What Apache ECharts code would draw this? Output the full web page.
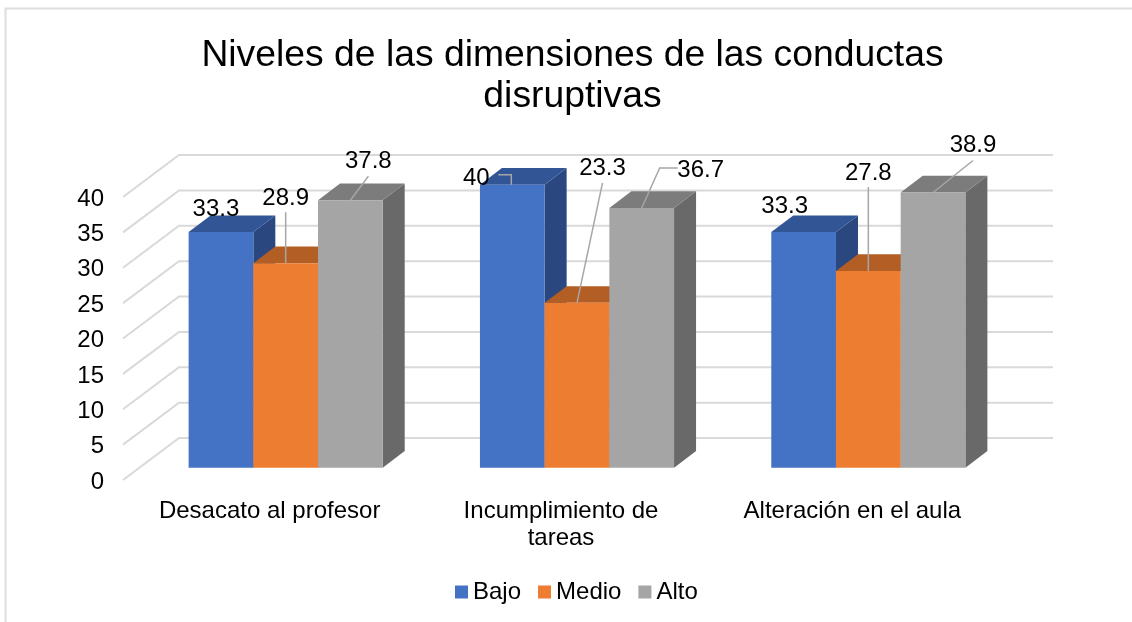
<!DOCTYPE html>
<html>
<head>
<meta charset="utf-8">
<style>
  html, body { margin: 0; padding: 0; background: #fff; }
  #chart { width: 1132px; height: 622px; }
</style>
<script src="https://cdn.jsdelivr.net/npm/echarts@6/dist/echarts.min.js"></script>
</head>
<body>
<div id="chart"></div>
<script>
var titleText = "Niveles de las dimensiones de las conductas\ndisruptivas";
var categories = ["Desacato al profesor", "Incumplimiento de\ntareas", "Alteración en el aula"];
var yTicks = [0, 5, 10, 15, 20, 25, 30, 35, 40];
var bajo = [33.3, 40, 33.3];
var medio = [28.9, 23.3, 27.8];
var alto = [37.8, 36.7, 38.9];

var FONT = "Liberation Sans";

// faces of each box: front, top, side
var faces = [
  ["#4472c4", "#325595", "#2a4780"],
  ["#ed7d31", "#b35e24", "#a05020"],
  ["#a5a5a5", "#7c7c7c", "#696969"],
];

// fake 3d: bars sit a bit inside the floor, walls are further back
var wallDx = 56, wallDy = 42;
var barShiftX = 17, barShiftY = 12.3;
var depthX = 22, depthY = 16.7;
var barW = 64.7;

// label centre and leader line, relative to middle of the bar's top edge
var labelPlace = [
  [
    { at: [-5, -23], line: null },
    { at: [-36, -6], line: [[-14, -10], [-1, -10], [-1, 0]] },
    { at: [-19, -26], line: null },
  ],
  [
    { at: [0, -65], line: [[0, -51], [0, 0]] },
    { at: [25.5, -134], line: [[25.5, -120], [0, 0]] },
    { at: [0, -98], line: [[0, -84], [0, 0]] },
  ],
  [
    { at: [18, -39], line: [[18, -24], [0, 0]] },
    { at: [59, -38], line: [[36, -40], [18, -40], [0, 0]] },
    { at: [40, -47], line: [[40, -32], [0, 0]] },
  ],
];

function barTop(api, s) {
  var c = api.coord([api.value(0), api.value(1)]);
  return [c[0] + barShiftX + (s - 1) * barW, c[1] - barShiftY];
}

function renderBox(s) {
  return function (params, api) {
    var top = barTop(api, s);
    var x0 = top[0] - barW / 2, x1 = top[0] + barW / 2;
    var yTop = top[1];
    var yBase = api.coord([api.value(0), 0])[1] - barShiftY;
    var f = faces[s];
    function poly(points, color) {
      return { type: "polygon", shape: { points: points }, style: { fill: color } };
    }
    return {
      type: "group",
      children: [
        poly([[x1, yBase], [x1 + depthX, yBase - depthY], [x1 + depthX, yTop - depthY], [x1, yTop]], f[2]),
        poly([[x0, yTop], [x0 + depthX, yTop - depthY], [x1 + depthX, yTop - depthY], [x1, yTop]], f[1]),
        poly([[x0, yBase], [x0, yTop], [x1, yTop], [x1, yBase]], f[0]),
      ],
    };
  };
}

function renderGrid(params, api) {
  var sys = params.coordSys;
  var y = api.coord([0, api.value(1)])[1];
  return {
    type: "polyline",
    shape: { points: [[sys.x, y], [sys.x + wallDx, y - wallDy], [sys.x + sys.width + wallDx, y - wallDy]] },
    style: { fill: "none", stroke: "#d9d9d9", lineWidth: 2 },
  };
}

function renderLabel(params, api) {
  var s = api.value(2);
  var place = labelPlace[s][api.value(3)];
  var top = barTop(api, s);
  var children = [];
  if (place.line) {
    children.push({
      type: "polyline",
      shape: { points: place.line.map(function (p) { return [top[0] + p[0], top[1] + p[1]]; }) },
      style: { fill: "none", stroke: "#a6a6a6", lineWidth: 1.5 },
    });
  }
  children.push({
    type: "text",
    style: {
      x: top[0] + place.at[0],
      y: top[1] + place.at[1],
      text: String(api.value(1)),
      fill: "#000",
      font: "24px " + FONT,
      align: "center",
      verticalAlign: "middle",
    },
  });
  return { type: "group", children: children };
}

var seriesValues = [bajo, medio, alto];
var seriesNames = ["Bajo", "Medio", "Alto"];

var series = [
  {
    type: "custom",
    name: "grid",
    silent: true,
    renderItem: renderGrid,
    data: yTicks.map(function (t) { return [0, t]; }),
    encode: { x: 0, y: 1 },
  },
];

seriesValues.forEach(function (vals, s) {
  series.push({
    type: "custom",
    name: seriesNames[s],
    itemStyle: { color: faces[s][0] },
    renderItem: renderBox(s),
    data: vals.map(function (v, i) { return [i, v]; }),
    encode: { x: 0, y: 1 },
  });
});

var labelRows = [];
seriesValues.forEach(function (vals, s) {
  vals.forEach(function (v, i) {
    labelRows.push([i, v, s, i]);
  });
});
series.push({
  type: "custom",
  name: "labels",
  silent: true,
  renderItem: renderLabel,
  data: labelRows,
  encode: { x: 0, y: 1 },
});

var chart = echarts.init(document.getElementById("chart"));
chart.setOption({
  backgroundColor: "#fff",
  animation: false,
  title: {
    text: titleText,
    left: 567.5,
    top: 30,
    textAlign: "center",
    textStyle: { fontFamily: FONT, fontSize: 37.3, fontWeight: "normal", color: "#000", lineHeight: 41 },
  },
  legend: {
    data: seriesNames,
    left: 450,
    top: 575,
    itemWidth: 13,
    itemHeight: 13,
    itemGap: 17,
    itemStyle: { borderWidth: 0 },
    icon: "rect",
    textStyle: { fontFamily: FONT, fontSize: 24, color: "#000" },
  },
  grid: { left: 123, top: 197, width: 874, height: 283 },
  xAxis: {
    type: "category",
    data: categories,
    axisLine: { show: false },
    axisTick: { show: false },
    axisLabel: {
      fontFamily: FONT,
      fontSize: 24,
      color: "#000",
      margin: 18,
      lineHeight: 27,
      padding: [0, 0, 0, 2],
      interval: 0,
    },
  },
  yAxis: {
    type: "value",
    min: 0,
    max: 40,
    interval: 5,
    axisLine: { show: false },
    axisTick: { show: false },
    splitLine: { show: false },
    // top aligned with a thin line box, drops the digits about 2px
    axisLabel: { fontFamily: FONT, fontSize: 24, color: "#000", margin: 19, verticalAlign: "top", lineHeight: 4 },
  },
  graphic: [
    {
      type: "polyline",
      silent: true,
      shape: { points: [[5.5, 622], [5.5, 8.5], [1132, 8.5]] },
      style: { fill: "none", stroke: "#dedede", lineWidth: 2 },
    },
  ],
  series: series,
});
</script>
</body>
</html>
